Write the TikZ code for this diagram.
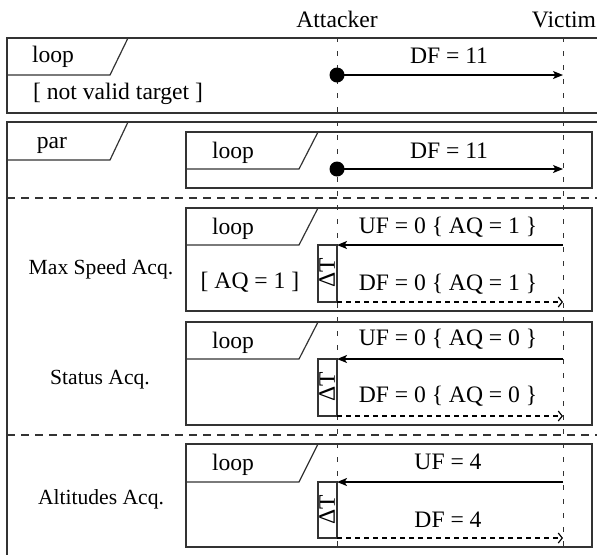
\documentclass[tikz,border=0pt]{standalone}
\usepackage{fontspec}
\setmainfont{Liberation Serif}
\usetikzlibrary{arrows.meta}
\begin{document}
\begin{tikzpicture}[x=0.5pt,y=-0.5pt,
  frame/.style={draw=black!80,line width=0.6pt},
  lifeline/.style={draw=black!80,line width=0.5pt,dash pattern=on 2.5pt off 4.5pt},
  sepline/.style={draw=black!80,line width=0.6pt,dash pattern=on 4pt off 3pt},
  msg/.style={draw=black,line width=0.6pt,-{Stealth[length=5pt,width=4pt,inset=1.2pt]}},
  reply/.style={draw=black,line width=0.6pt,dash pattern=on 2.5pt off 2pt,-{Straight Barb[length=2pt,width=5pt]}},
  lbl/.style={font=\fontsize{11.8}{14}\selectfont,inner sep=0pt,anchor=base},
  reglbl/.style={font=\fontsize{10.8}{13}\selectfont,inner sep=0pt,anchor=base},
  dot/.style={circle,fill=black,inner sep=0pt,minimum size=7.5pt},
  dtl/.style={font=\fontsize{11.8}{14}\selectfont,inner sep=0pt,rotate=90}
]
\useasboundingbox (0,0) rectangle (597,554);
\clip (0,0) rectangle (597,554);

% lifeline heads
\node[lbl] (attacker) at (337,27) {Attacker};
\node[lbl] (victim) at (564,27) {Victim};

% outer loop frame
\draw[frame] (7,38) rectangle (620,113);
\draw[frame] (7,75) -- (110,75) -- (128,38);
\node[lbl] (loopA) at (53,62) {loop};
\node[lbl] (guardA) at (118,99) {[ not valid target ]};

% par frame
\draw[frame] (7,122) rectangle (620,620);
\draw[frame] (7,160) -- (110,160) -- (128,122);
\node[lbl] (parL) at (52,148) {par};

% inner loop 1
\draw[frame] (186,132) rectangle (592,188);
\draw[frame] (186,169) -- (299,169) -- (318,132);
\node[lbl] (loopB) at (233,158) {loop};

% separators
\draw[sepline] (7,198) -- (597,198);
\draw[sepline] (7,435) -- (597,435);

% region labels
\node[reglbl] (regA) at (101,274) {Max Speed Acq.};
\node[reglbl] (regB) at (100,384) {Status Acq.};
\node[reglbl] (regC) at (101,504) {Altitudes Acq.};

% loop 2
\draw[frame] (186,208) rectangle (592,311);
\draw[frame] (186,245) -- (299,245) -- (318,208);
\node[lbl] (loopC) at (233,234) {loop};
\node[lbl] (guardC) at (250,288) {[ AQ = 1 ]};
\draw[frame] (318,245) rectangle (337,302);
\node[dtl] (dtC) at (327,273) {ΔT};

% loop 3
\draw[frame] (186,322) rectangle (592,425);
\draw[frame] (186,359) -- (299,359) -- (318,322);
\node[lbl] (loopD) at (233,348) {loop};
\draw[frame] (318,359) rectangle (337,416);
\node[dtl] (dtD) at (327,387) {ΔT};

% loop 4
\draw[frame] (186,444) rectangle (592,547);
\draw[frame] (186,482) -- (299,482) -- (318,444);
\node[lbl] (loopE) at (233,470) {loop};
\draw[frame] (318,482) rectangle (337,538);
\node[dtl] (dtE) at (327,510) {ΔT};

% lifelines
\coordinate (aTop) at (337,37);
\coordinate (aBot) at (337,554);
\coordinate (vTop) at (563,37);
\coordinate (vBot) at (563,554);
\draw[lifeline] (aTop) -- (aBot);
\draw[lifeline] (vTop) -- (vBot);

% messages
\coordinate (v1) at (563,75);
\node[dot] (d1) at (337,75) {};
\draw[msg] (d1.center) -- (v1);
\node[lbl] (m1) at (449,63) {DF = 11};

\coordinate (v2) at (563,169);
\node[dot] (d2) at (337,169) {};
\draw[msg] (d2.center) -- (v2);
\node[lbl] (m2) at (449,158) {DF = 11};

\coordinate (uv3) at (563,245);
\coordinate (ua3) at (337,245);
\draw[msg] (uv3) -- (ua3);
\node[lbl] (u3) at (448,233) {UF = 0 \{ AQ = 1 \}};
\coordinate (da3) at (337,302);
\coordinate (dv3) at (563,302);
\draw[reply] (da3) -- (dv3);
\node[lbl] (r3) at (448,290) {DF = 0 \{ AQ = 1 \}};

\coordinate (uv4) at (563,359);
\coordinate (ua4) at (337,359);
\draw[msg] (uv4) -- (ua4);
\node[lbl] (u4) at (448,345) {UF = 0 \{ AQ = 0 \}};
\coordinate (da4) at (337,416);
\coordinate (dv4) at (563,416);
\draw[reply] (da4) -- (dv4);
\node[lbl] (r4) at (448,402) {DF = 0 \{ AQ = 0 \}};

\coordinate (uv5) at (563,482);
\coordinate (ua5) at (337,482);
\draw[msg] (uv5) -- (ua5);
\node[lbl] (u5) at (448,469) {UF = 4};
\coordinate (da5) at (337,538);
\coordinate (dv5) at (563,538);
\draw[reply] (da5) -- (dv5);
\node[lbl] (r5) at (448,527) {DF = 4};
\end{tikzpicture}
\end{document}
